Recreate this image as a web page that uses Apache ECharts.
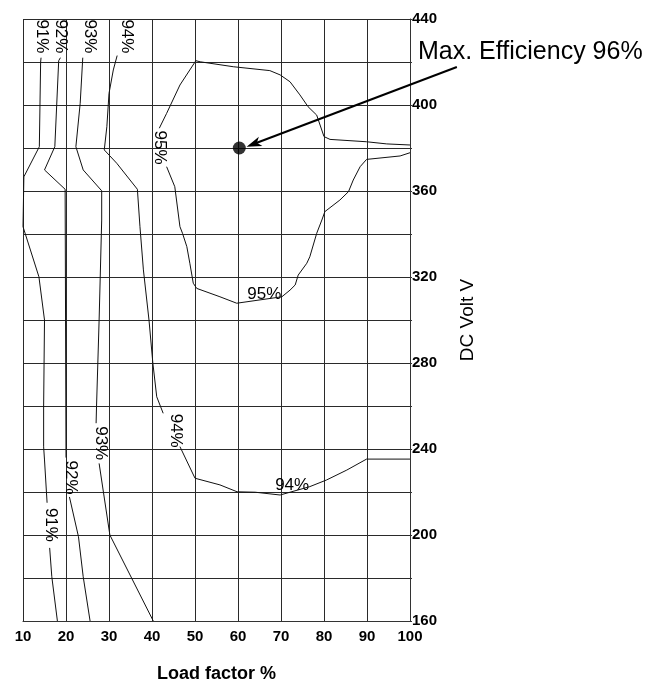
<!DOCTYPE html>
<html>
<head>
<meta charset="utf-8">
<script src="https://cdn.jsdelivr.net/npm/echarts@6/dist/echarts.min.js"></script>
<style>
html,body{margin:0;padding:0;background:#fff;}
#chart{width:661px;height:684px;}
</style>
</head>
<body>
<div id="chart"></div>
<script>
// ---- data (load factor %, DC volt) ----
var xTicks = [10, 20, 30, 40, 50, 60, 70, 80, 90, 100];
var yTicks = [160, 200, 240, 280, 320, 360, 400, 440];

var line91 = [[14.2, 422], [14.1, 420], [13.8, 380.6], [10.2, 366.6], [10, 343.4], [13.7, 320.1], [15.0, 300], [14.8, 260], [14.8, 241], [15.0, 234.9], [15.6, 215], null, [16.2, 194], [16.7, 180.6], [18.0, 160]];
var line92 = [[18.7, 422], [18.3, 420.6], [17.4, 380.6], [15.0, 369.8], [19.8, 360.8], [20, 360], [20, 236], null, [20.8, 217.7], [22.9, 199.2], [24.0, 180.6], [25.6, 160]];
var line93 = [[23.9, 422], [23.3, 400.8], [22.3, 380.6], [24.0, 369.8], [28.3, 360.1], [28.3, 346.5], [27.7, 300], [27.1, 259.7], [27.0, 252], null, [27.7, 233.3], [30.2, 200], [40.3, 160]];
var line94 = [[31.9, 423], [31.0, 416.3], [30.0, 405.4], [29.5, 389.9], [28.9, 379.1], [31.8, 372.9], [36.6, 360.8], [37.2, 343.4], [38.0, 323.3], [39.3, 300], [40.2, 279.9], [41.1, 264.3], [42.6, 256.6], null, [46.5, 241.1], [50.0, 226.4], [55.8, 223.3], [59.8, 220.1], [64.0, 219.9], [69.8, 218.6], [76.7, 222.5], [80.6, 225.6], [85.3, 230.2], [89.9, 235.3], [100, 235.3]];
var line95 = [[100, 381.4], [94.6, 381.9], [89.9, 382.9], [81.4, 384.0], [80.0, 385.3], [78.3, 395.3], [76.3, 399.2], [74.4, 404.7], [72.1, 410.8], [69.8, 414.0], [67.4, 416.0], [58.9, 417.8], [51.2, 420.1], [50.2, 420.6], [46.5, 409.3], [43.4, 396.1], [41.7, 389.2], null, [43.4, 371.3], [45.3, 362.0], [46.5, 343.4], [47.1, 340.3], [48.1, 334.1], [48.8, 326.4], [49.6, 317.1], [50.4, 314.7], [55.8, 310.8], [59.7, 307.8], [70.2, 310.8], [72.1, 313.9], [73.3, 316.3], [74.0, 320.9], [76.0, 326.4], [76.7, 329.4], [78.3, 340.3], [79.5, 346.5], [80.2, 350.4], [83.7, 355.8], [85.7, 359.7], [86.8, 365.1], [88.4, 371.3], [89.9, 374.7], [97.7, 376.3], [100, 377.8]];

var labelNames = ['91%', '92%', '93%', '94%', '95%', '93%', '94%', '92%', '91%', '95%', '94%'];
var labelX = [14.35, 18.8, 25.5, 34.1, 41.9, 28.1, 45.5, 21.1, 16.5, 66.1, 72.6];
var labelY = [431.9, 431.9, 431.9, 431.9, 380.2, 242.7, 248.5, 226.7, 204.7, 312.1, 222.9];
var labelVertical = [true, true, true, true, true, true, true, true, true, false, false];

var maxPoint = [60.3, 380];
var arrowFrom = [110.9, 417.7];
var arrowTo = [62.0, 380.6];
var maxText = 'Max. Efficiency 96%';

// ---- chart ----
var FONT = '"Liberation Sans", Arial, sans-serif';
var chart = echarts.init(document.getElementById('chart'), null, {renderer: 'canvas'});

function contour(name, data) {
  return {
    name: name, type: 'line', data: data, showSymbol: false, symbol: 'none',
    connectNulls: false, smooth: false, silent: true, clip: true,
    lineStyle: {color: '#111', width: 1}
  };
}

var labelData = labelNames.map(function (n, i) {
  return {
    name: n, value: [labelX[i], labelY[i]],
    label: {rotate: labelVertical[i] ? -90 : 0}
  };
});

var option = {
  animation: false,
  backgroundColor: '#fff',
  grid: {left: 23, top: 19, right: 251, bottom: 63, containLabel: false, outerBoundsMode: 'none'},
  xAxis: {
    type: 'value', min: 10, max: 100, interval: 10,
    name: 'Load factor %', nameLocation: 'middle', nameGap: 44,
    nameTextStyle: {fontFamily: FONT, fontSize: 18, fontWeight: 'bold', color: '#000'},
    axisLine: {show: true, lineStyle: {color: '#333', width: 1}},
    axisTick: {show: false},
    axisLabel: {fontFamily: FONT, fontSize: 15, fontWeight: 'bold', color: '#000', margin: 8,
      formatter: function (v) { return xTicks.indexOf(v) >= 0 ? String(v) : ''; }},
    splitLine: {show: true, lineStyle: {color: '#2a2a2a', width: 1}}
  },
  yAxis: {
    type: 'value', position: 'right', min: 160, max: 440, interval: 20,
    name: 'DC Volt V', nameLocation: 'middle', nameRotate: 90, nameGap: 48,
    nameTextStyle: {fontFamily: FONT, fontSize: 19, color: '#000'},
    axisLine: {show: true, lineStyle: {color: '#333', width: 1}},
    axisTick: {show: true, length: 2, interval: 1, lineStyle: {color: '#333'}},
    axisLabel: {fontFamily: FONT, fontSize: 15, fontWeight: 'bold', color: '#000', margin: 2,
      formatter: function (v) { return yTicks.indexOf(v) >= 0 ? String(v) : ''; }},
    splitLine: {show: true, lineStyle: {color: '#2a2a2a', width: 1}}
  },
  series: [
    contour('91%', line91),
    contour('92%', line92),
    contour('93%', line93),
    contour('94%', line94),
    contour('95%', line95),
    {
      name: 'labels', type: 'scatter', data: labelData, symbolSize: 0, silent: true,
      itemStyle: {color: 'rgba(0,0,0,0)'},
      label: {show: true, position: 'inside', formatter: '{b}', fontFamily: FONT, fontSize: 17,
        color: '#000', opacity: 1, textBorderWidth: 0}
    },
    {
      name: 'max', type: 'scatter', data: [maxPoint], symbolSize: 13, silent: true, clip: false,
      itemStyle: {color: '#000'}
    }
  ]
};
chart.setOption(option);

// annotation arrow, positioned through the chart's own scales
var p0 = chart.convertToPixel({gridIndex: 0}, arrowFrom);
var p1 = chart.convertToPixel({gridIndex: 0}, arrowTo);
var dx = p1[0] - p0[0], dy = p1[1] - p0[1];
var len = Math.sqrt(dx * dx + dy * dy);
var ux = dx / len, uy = dy / len;
var headLen = 15, headHalf = 5;
var bx = p1[0] - ux * headLen, by = p1[1] - uy * headLen;
var nx = -uy, ny = ux;
chart.setOption({
  graphic: [
    {
      type: 'line', silent: true, z: 100,
      shape: {x1: p0[0], y1: p0[1], x2: bx + ux * 4, y2: by + uy * 4},
      style: {stroke: '#000', lineWidth: 2}
    },
    {
      type: 'polygon', silent: true, z: 100,
      shape: {points: [[p1[0], p1[1]], [bx + nx * headHalf, by + ny * headHalf], [bx + ux * 4, by + uy * 4], [bx - nx * headHalf, by - ny * headHalf]]},
      style: {fill: '#000'}
    },
    {
      type: 'text', left: 418, top: 40, silent: true, z: 100,
      style: {text: maxText, font: '25px ' + FONT, fill: '#000'}
    }
  ]
});
</script>
</body>
</html>
